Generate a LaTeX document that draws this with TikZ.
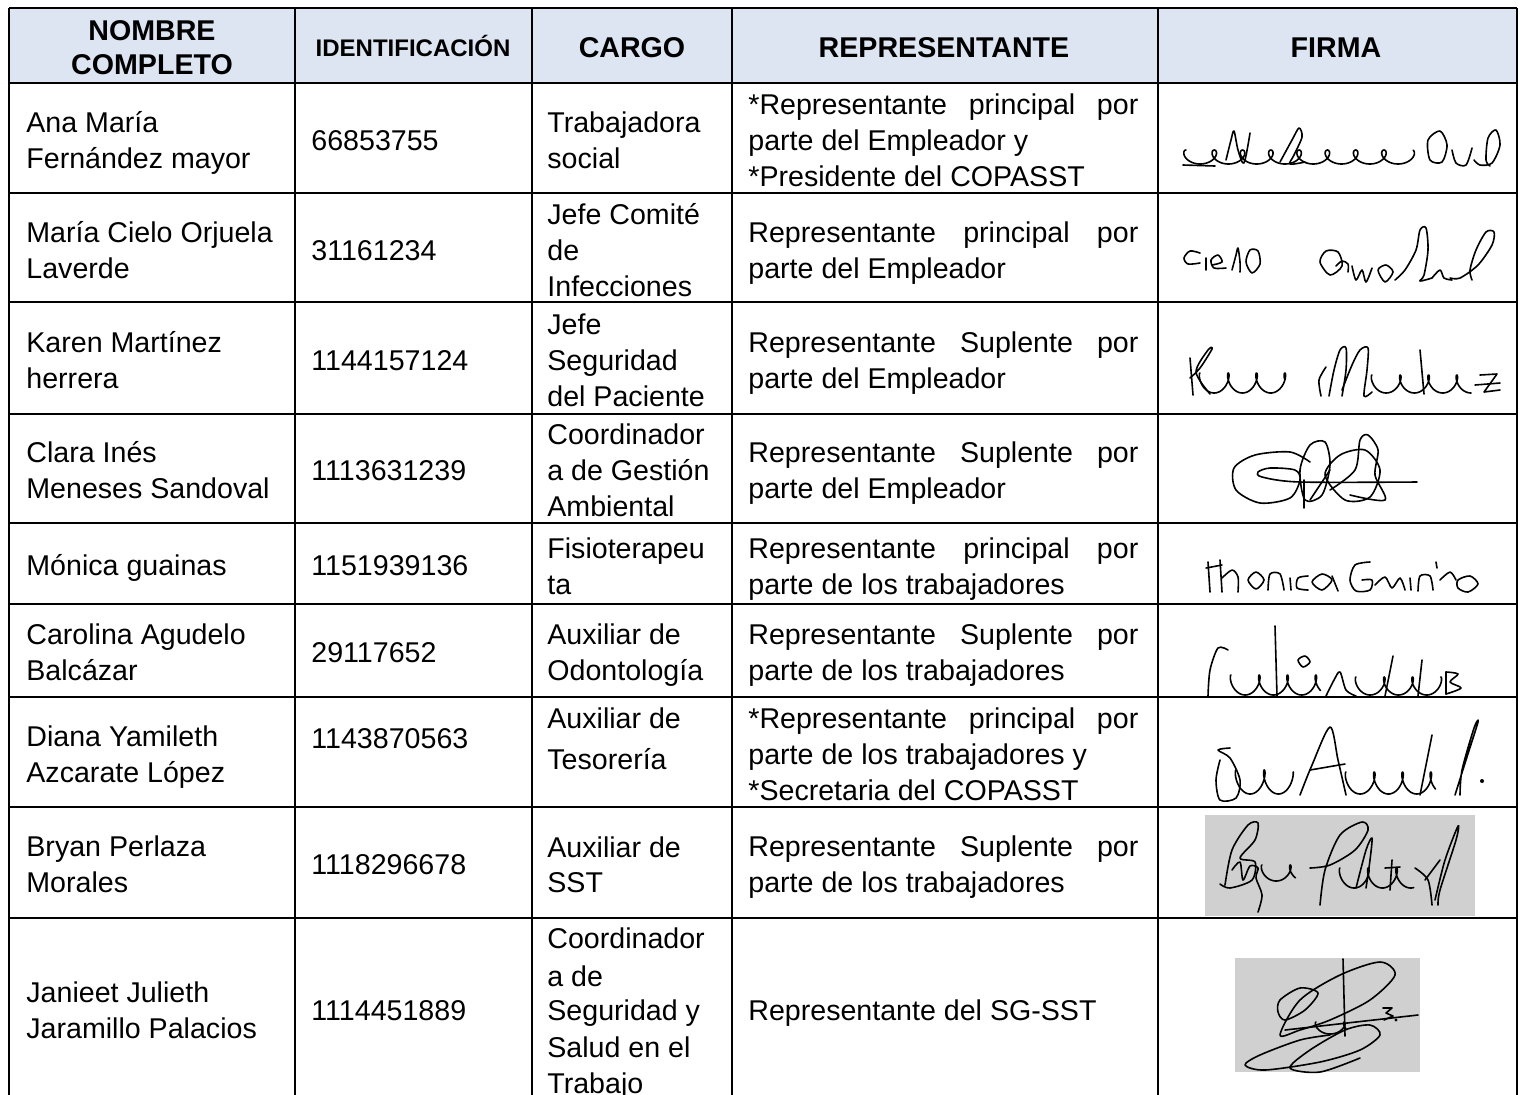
\documentclass[tikz,border=0pt]{standalone}
\usepackage{fontspec}
\setmainfont{Liberation Sans}
\definecolor{hdr}{RGB}{220,229,241}
\definecolor{sgbg}{RGB}{208,208,208}
\tikzset{
  tx/.style={anchor=base west, inner sep=0pt, font=\fontsize{14.3}{17}\selectfont},
  hd/.style={anchor=base, inner sep=0pt, font=\fontsize{14.3}{17}\selectfont\bfseries},
  gridline/.style={line width=1.35pt, black},
  sig/.style={line width=0.8pt, line cap=round, line join=round, black},
  sigbg/.style={fill=sgbg, draw=none},
}
\newcommand\tl[4]{\node[tx] (#1) at (#2,#3+10) {#4};}
\newcommand\jl[4]{\node[tx] (#1) at (#2,#3+10) {\makebox[195pt][s]{#4}};}
\begin{document}
\begin{tikzpicture}[x=0.5pt,y=-0.5pt]
\useasboundingbox (0,0) rectangle (1520,1094);
\clip (0,0) rectangle (1520,1094);
% header background
\fill[hdr] (9,8) rectangle (1517,83);
% grid
\foreach \yy in {8,83,193,302,414,523,604,697,807,918}
  \draw[gridline] (9,\yy) -- (1517,\yy);
\foreach \xx in {9,295,532,732,1158,1517}
  \draw[gridline] (\xx,8) -- (\xx,1110);
% header
\node[hd] (h1a) at (152,40) {NOMBRE};
\node[hd] (h1b) at (152,74) {COMPLETO};
\node[hd, font=\fontsize{12}{14}\selectfont\bfseries] (h2) at (413,56) {IDENTIFICACIÓN};
\node[hd] (h3) at (632,57) {CARGO};
\node[hd] (h4) at (944,57) {REPRESENTANTE};
\node[hd] (h5) at (1336,57) {FIRMA};
% row 1
\tl{r1a}{26}{122}{Ana María}
\tl{r1b}{26}{158}{Fernández mayor}
\tl{r1id}{311}{140}{66853755}
\tl{r1c1}{547}{122}{Trabajadora}
\tl{r1c2}{547}{158}{social}
\jl{r1r1}{748}{104}{*Representante principal por}
\tl{r1r2}{748}{140}{parte del Empleador y}
\tl{r1r3}{748}{176}{*Presidente del COPASST}
% row 2
\tl{r2a}{26}{232}{María Cielo Orjuela}
\tl{r2b}{26}{268}{Laverde}
\tl{r2id}{311}{250}{31161234}
\tl{r2c1}{547}{214}{Jefe Comité}
\tl{r2c2}{547}{250}{de}
\tl{r2c3}{547}{286}{Infecciones}
\jl{r2r1}{748}{232}{Representante principal por}
\tl{r2r2}{748}{268}{parte del Empleador}
% row 3
\tl{r3a}{26}{342}{Karen Martínez}
\tl{r3b}{26}{378}{herrera}
\tl{r3id}{311}{360}{1144157124}
\tl{r3c1}{547}{324}{Jefe}
\tl{r3c2}{547}{360}{Seguridad}
\tl{r3c3}{547}{396}{del Paciente}
\jl{r3r1}{748}{342}{Representante Suplente por}
\tl{r3r2}{748}{378}{parte del Empleador}
% row 4
\tl{r4a}{26}{452}{Clara Inés}
\tl{r4b}{26}{488}{Meneses Sandoval}
\tl{r4id}{311}{470}{1113631239}
\tl{r4c1}{547}{434}{Coordinador}
\tl{r4c2}{547}{470}{a de Gestión}
\tl{r4c3}{547}{506}{Ambiental}
\jl{r4r1}{748}{452}{Representante Suplente por}
\tl{r4r2}{748}{488}{parte del Empleador}
% row 5
\tl{r5a}{26}{565}{Mónica guainas}
\tl{r5id}{311}{565}{1151939136}
\tl{r5c1}{547}{548}{Fisioterapeu}
\tl{r5c2}{547}{584}{ta}
\jl{r5r1}{748}{548}{Representante principal por}
\tl{r5r2}{748}{584}{parte de los trabajadores}
% row 6
\tl{r6a}{26}{634}{Carolina Agudelo}
\tl{r6b}{26}{670}{Balcázar}
\tl{r6id}{311}{652}{29117652}
\tl{r6c1}{547}{634}{Auxiliar de}
\tl{r6c2}{547}{670}{Odontología}
\jl{r6r1}{748}{634}{Representante Suplente por}
\tl{r6r2}{748}{670}{parte de los trabajadores}
% row 7
\tl{r7a}{26}{736}{Diana Yamileth}
\tl{r7b}{26}{772}{Azcarate López}
\tl{r7id}{311}{738}{1143870563}
\tl{r7c1}{547}{718}{Auxiliar de}
\tl{r7c2}{547}{759}{Tesorería}
\jl{r7r1}{748}{718}{*Representante principal por}
\tl{r7r2}{748}{754}{parte de los trabajadores y}
\tl{r7r3}{748}{790}{*Secretaria del COPASST}
% row 8
\tl{r8a}{26}{846}{Bryan Perlaza}
\tl{r8b}{26}{882}{Morales}
\tl{r8id}{311}{864}{1118296678}
\tl{r8c1}{547}{847}{Auxiliar de}
\tl{r8c2}{547}{882}{SST}
\jl{r8r1}{748}{846}{Representante Suplente por}
\tl{r8r2}{748}{882}{parte de los trabajadores}
% row 9
\tl{r9a}{26}{992}{Janieet Julieth}
\tl{r9b}{26}{1028}{Jaramillo Palacios}
\tl{r9id}{311}{1010}{1114451889}
\tl{r9c1}{547}{938}{Coordinador}
\tl{r9c2}{547}{976}{a de}
\tl{r9c3}{547}{1010}{Seguridad y}
\tl{r9c4}{547}{1047}{Salud en el}
\tl{r9c5}{547}{1083}{Trabajo}
\tl{r9r1}{748}{1010}{Representante del SG-SST}

% ---------- signatures ----------
% 1 Ana Maria
\draw[sig] plot[domain=0:50, samples=280, smooth] ({1186+4.5*\x-8*sin(\x r)}, {157-7*cos(\x r)});
\draw[sig] plot[smooth] coordinates {(1226,160) (1231,140) (1234,131) (1238,150) (1244,163) (1250,133)};
\draw[sig] plot[smooth] coordinates {(1280,162) (1292,140) (1299,128) (1302,137) (1294,155) (1290,164) (1305,162)};
\draw[sig] plot[smooth cycle] coordinates {(1430,160) (1428,140) (1440,131) (1447,145) (1442,162)};
\draw[sig] plot[smooth] coordinates {(1452,150) (1456,163) (1466,165) (1472,148)};
\draw[sig] plot[smooth] coordinates {(1474,160) (1480,165) (1492,163) (1500,145) (1496,130) (1488,138) (1486,160) (1490,166)};
\draw[sig] (1183,165) -- (1215,166);
% 2 Cielo Orjuela
\draw[sig] plot[smooth] coordinates {(1200,253) (1190,251) (1184,258) (1188,264) (1200,263)};
\draw[sig] (1206,258) -- (1206,270);
\draw[sig] plot[smooth] coordinates {(1212,265) (1222,262) (1218,255) (1211,260) (1214,268) (1226,268)};
\draw[sig] plot[smooth] coordinates {(1232,270) (1236,255) (1238,248) (1240,262) (1240,272)};
\draw[sig] plot[smooth cycle] coordinates {(1250,250) (1246,262) (1252,273) (1260,264) (1258,251)};
\draw[sig] plot[smooth cycle] coordinates {(1320,262) (1326,251) (1338,252) (1342,266) (1330,275)};
\draw[sig] plot[smooth] coordinates {(1336,266) (1342,261) (1348,264) (1348,272)};
\draw[sig] plot[smooth] coordinates {(1352,266) (1356,280) (1362,270) (1366,282) (1372,268)};
\draw[sig] plot[smooth cycle] coordinates {(1378,270) (1386,265) (1393,272) (1385,282)};
\draw[sig] plot[smooth] coordinates {(1395,280) (1405,270) (1416,250) (1420,230) (1426,228) (1428,250) (1424,275) (1420,281) (1432,278)};
\draw[sig] plot[smooth] coordinates {(1432,278) (1440,270) (1444,278) (1452,280)};
\draw[sig] plot[smooth] coordinates {(1450,278) (1460,278) (1478,265) (1492,245) (1494,232) (1486,232) (1476,250) (1470,270) (1472,280)};
% 3 Karen Martinez
\draw[sig] (1190,358) -- (1193,395);
\draw[sig] plot[smooth] coordinates {(1190,378) (1200,368) (1212,349) (1208,350) (1196,372) (1210,394)};
\draw[sig] plot[domain=0:20, samples=120, smooth] ({1200+4.5*\x-6*sin(\x r)}, {383-10*cos(\x r)});
\draw[sig] plot[smooth] coordinates {(1326,367) (1319,380) (1321,396)};
\draw[sig] plot[smooth] coordinates {(1329,396) (1334,370) (1340,350) (1346,348) (1346,370) (1342,396)};
\draw[sig] plot[smooth] coordinates {(1342,390) (1352,365) (1360,350) (1368,348) (1367,370) (1364,396) (1372,392)};
\draw[sig] plot[domain=0:22, samples=120, smooth] ({1372+4.5*\x-6*sin(\x r)}, {384-9*cos(\x r)});
\draw[sig] (1420,350) -- (1424,394);
\draw[sig] plot coordinates {(1480,375) (1497,374) (1484,392) (1500,390)};
\draw[sig] (1475,385) -- (1500,383);
% 4 Clara
\draw[sig] plot[smooth] coordinates {(1417,482) (1300,482) (1262,477) (1258,472) (1270,468) (1295,470) (1300,480) (1290,498) (1260,503) (1236,490) (1234,468) (1255,455) (1290,452) (1310,462)};
\draw[sig] plot[smooth cycle] coordinates {(1305,500) (1300,470) (1310,445) (1325,442) (1330,465) (1322,495)};
\draw[sig] plot[smooth cycle] coordinates {(1325,475) (1340,455) (1365,450) (1380,470) (1370,497) (1345,500)};
\draw[sig] plot[smooth] coordinates {(1330,490) (1355,470) (1360,440) (1368,435) (1378,450) (1375,475) (1385,500) (1350,495)};
\draw[sig] (1304,480) -- (1304,508);
\draw[sig] (1310,500) -- (1330,470);
% 5 Monica
\draw[sig] (1208,562) -- (1210,592);
\draw[sig] (1206,568) -- (1222,565);
\draw[sig] (1220,560) -- (1222,592);
\draw[sig] plot[smooth] coordinates {(1222,578) (1232,570) (1238,577) (1238,592)};
\draw[sig] plot[smooth cycle] coordinates {(1248,580) (1256,572) (1264,580) (1256,589)};
\draw[sig] plot[smooth] coordinates {(1268,590) (1270,574) (1280,574) (1284,590)};
\draw[sig] (1290,578) -- (1291,590);
\draw[sig] plot[smooth] coordinates {(1308,576) (1298,578) (1297,588) (1308,590)};
\draw[sig] plot[smooth cycle] coordinates {(1312,582) (1322,574) (1332,580) (1322,590)};
\draw[sig] (1332,576) -- (1338,591);
\draw[sig] plot[smooth] coordinates {(1370,562) (1355,565) (1350,580) (1356,591) (1370,590) (1372,580) (1362,580)};
\draw[sig] plot[smooth] coordinates {(1375,585) (1385,577) (1392,588) (1400,578) (1405,590)};
\draw[sig] (1410,578) -- (1411,590);
\draw[sig] plot[smooth] coordinates {(1418,591) (1420,576) (1430,576) (1433,590)};
\draw[sig] (1436,562) -- (1437,568);
\draw[sig] plot[smooth] coordinates {(1440,580) (1450,572) (1456,580)};
\draw[sig] plot[smooth cycle] coordinates {(1458,580) (1470,576) (1478,584) (1468,592) (1458,588)};
% 6 Carolina
\draw[sig] plot[smooth] coordinates {(1228,650) (1218,648) (1210,670) (1208,696)};
\draw[sig] (1275,626) -- (1277,696);
\draw[sig] plot[domain=0:21, samples=120, smooth] ({1231+4.5*\x-6*sin(\x r)}, {685-10*cos(\x r)});
\draw[sig] plot[smooth cycle] coordinates {(1298,660) (1305,656) (1310,662) (1303,667)};
\draw[sig] plot[smooth] coordinates {(1326,696) (1334,680) (1340,672) (1346,690) (1356,696)};
\draw[sig] plot[domain=0:19, samples=120, smooth] ({1356+4.5*\x-6*sin(\x r)}, {686-9*cos(\x r)});
\draw[sig] (1385,696) -- (1393,656);
\draw[sig] (1418,696) -- (1422,660);
\draw[sig] plot[smooth] coordinates {(1446,672) (1458,674) (1450,682) (1461,688) (1446,694)};
\draw[sig] (1446,672) -- (1446,694);
% 7 Diana
\draw[sig] plot[smooth] coordinates {(1220,760) (1216,780) (1220,800) (1236,798) (1240,780) (1230,758) (1218,750) (1230,748)};
\draw[sig] plot[domain=0:12, samples=80, smooth] ({1236+4.5*\x-6*sin(\x r)}, {782-12*cos(\x r)});
\draw[sig] plot[smooth] coordinates {(1300,795) (1312,765) (1330,727) (1338,760) (1346,795)};
\draw[sig] (1310,770) -- (1345,764);
\draw[sig] plot[domain=0:21, samples=120, smooth] ({1346+4.5*\x-6*sin(\x r)}, {783-11*cos(\x r)});
\draw[sig] (1420,795) -- (1432,735);
\draw[sig] plot[smooth] coordinates {(1455,795) (1466,760) (1478,722) (1474,728) (1462,770) (1460,795)};
\fill (1482,781) circle (1pt);
% 8 Bryan
\fill[sigbg] (1205,815) rectangle (1475,916);
\draw[sig] plot[smooth] coordinates {(1225,885) (1232,850) (1248,825) (1258,823) (1255,840) (1240,858) (1255,862) (1252,880) (1230,888) (1220,884)};
\draw[sig] plot[smooth] coordinates {(1232,870) (1240,862) (1243,880) (1250,866) (1258,868) (1256,878) (1262,895) (1258,912)};
\draw[sig] plot[domain=0:8.5, samples=60, smooth] ({1262+4.5*\x-6*sin(\x r)}, {873-8*cos(\x r)});
\draw[sig] plot[smooth] coordinates {(1320,905) (1325,870) (1340,835) (1362,822) (1368,830) (1355,850) (1330,865) (1310,868)};
\draw[sig] plot[domain=0:16, samples=100, smooth] ({1340+4.5*\x-6*sin(\x r)}, {878-10*cos(\x r)});
\draw[sig] plot[smooth] coordinates {(1356,888) (1366,850) (1372,838) (1370,860) (1366,888)};
\draw[sig] (1392,860) -- (1390,890);
\draw[sig] (1385,868) -- (1400,867);
\draw[sig] plot[smooth] coordinates {(1415,868) (1428,880) (1432,905)};
\draw[sig] (1425,880) -- (1440,860);
\draw[sig] plot[smooth] coordinates {(1435,900) (1445,860) (1458,826) (1456,840) (1440,890) (1438,905)};
% 9 Janieet
\fill[sigbg] (1235,958) rectangle (1420,1072);
\draw[sig] (1343,959) -- (1345,1036);
\draw[sig] plot[smooth cycle] coordinates {(1280,1035) (1300,1000) (1340,975) (1380,962) (1395,975) (1370,1000) (1330,1020) (1300,1030)};
\draw[sig] plot[smooth cycle] coordinates {(1280,1000) (1300,988) (1318,993) (1305,1010) (1285,1020) (1278,1012)};
\draw[sig] plot[smooth] coordinates {(1330,1035) (1300,1040) (1260,1055) (1245,1065) (1265,1070) (1320,1062) (1360,1050) (1380,1035) (1370,1025) (1345,1030) (1310,1050) (1290,1068) (1320,1072) (1360,1058)};
\draw[sig] (1285,1030) -- (1418,1015);
\draw[sig] plot coordinates {(1383,1008) (1392,1008) (1386,1013) (1393,1016) (1384,1020)};
\fill (1396,1020) circle (0.8pt);
\draw[sig] plot[domain=0:8, samples=60, smooth] ({1316+4.5*\x-6*sin(\x r)}, {1028-6*cos(\x r)});
\end{tikzpicture}
\end{document}
